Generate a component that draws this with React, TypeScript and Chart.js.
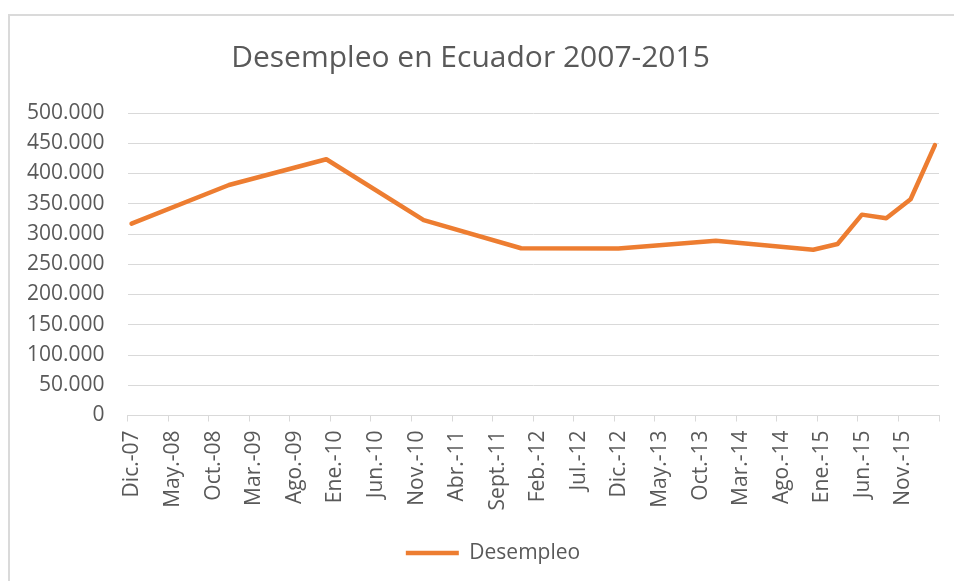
import { useEffect, useRef } from 'react';
import { Chart, registerables } from 'chart.js';

Chart.register(...registerables);

const chartTitle = 'Desempleo en Ecuador 2007-2015';
const seriesName = 'Desempleo';
// Observation periods (year-month)
const periods = [
  '2007-12', '2008-12', '2009-12', '2010-12', '2011-12', '2012-12', '2013-12',
  '2014-12', '2015-03', '2015-06', '2015-09', '2015-12', '2016-03',
];
// Unemployed persons
const unemployed = [
  317000, 381000, 423500, 323000, 276500, 276000, 289000,
  274000, 283500, 332000, 326000, 357500, 447000,
];
// Date-axis labels, one every 5 months starting Dic.-07
const xTickLabels = [
  'Dic.-07', 'May.-08', 'Oct.-08', 'Mar.-09', 'Ago.-09', 'Ene.-10', 'Jun.-10',
  'Nov.-10', 'Abr.-11', 'Sept.-11', 'Feb.-12', 'Jul.-12', 'Dic.-12', 'May.-13',
  'Oct.-13', 'Mar.-14', 'Ago.-14', 'Ene.-15', 'Jun.-15', 'Nov.-15', '',
];
const yMin = 0;
const yMax = 500000;
const yStep = 50000;

const FONT = "'Open Sans', sans-serif";
const TEXT = '#595959';
const GRID = '#d9d9d9';
const ORANGE = '#ED7D31';

// months since Dic.-07, points placed mid-month
const monthOffset = (p: string) => {
  const [y, m] = p.split('-').map(Number);
  return (y - 2007) * 12 + (m - 12) + 0.5;
};

const fmtThousands = (v: number) =>
  String(Math.round(v)).replace(/\B(?=(\d{3})+(?!\d))/g, '.');

const shiftPlugin = {
  id: 'shiftBoxes',
  afterLayout(chart: any, _args: any, opts: any) {
    const t = chart.titleBlock;
    if (t) { t.left += opts.title; t.right += opts.title; }
    const l = chart.legend;
    if (l) { l.left += opts.legend; l.right += opts.legend; }
  },
};

export default function App() {
  const ref = useRef<HTMLCanvasElement>(null);

  useEffect(() => {
    if (!ref.current) return;
    const chart = new Chart(ref.current, {
      type: 'line',
      data: {
        datasets: [
          {
            label: seriesName,
            data: periods.map((p, i) => ({ x: monthOffset(p), y: unemployed[i] })),
            borderColor: ORANGE,
            backgroundColor: ORANGE,
            borderWidth: 4.5,
            borderCapStyle: 'round',
            borderJoinStyle: 'round',
            pointRadius: 0,
            pointHoverRadius: 0,
            tension: 0,
            fill: false,
          },
        ],
      },
      plugins: [shiftPlugin],
      options: {
        responsive: false,
        animation: false,
        layout: { padding: { left: 0, right: 15, top: 0, bottom: 7.5 } },
        scales: {
          x: {
            type: 'linear',
            min: 0,
            max: 100,
            afterFit: (s: any) => {
              s.height = 117;
              s.paddingLeft = 0;
              s.paddingRight = 0;
            },
            ticks: {
              stepSize: 5,
              autoSkip: false,
              maxRotation: 90,
              minRotation: 90,
              padding: 9,
              labelOffset: 5,
              color: TEXT,
              font: { family: FONT, size: 21 },
              callback: (v: any) => xTickLabels[Math.round(Number(v) / 5)] ?? '',
            },
            grid: {
              drawOnChartArea: false,
              drawTicks: true,
              tickLength: 6,
              color: GRID,
              lineWidth: 1,
            },
            border: { display: true, color: GRID, width: 1 },
          },
          y: {
            min: yMin,
            max: yMax,
            afterFit: (s: any) => { s.width = 117.5; },
            ticks: {
              stepSize: yStep,
              padding: 23,
              color: TEXT,
              font: { family: FONT, size: 21 },
              callback: (v: any) => fmtThousands(Number(v)),
            },
            grid: { drawTicks: false, color: GRID, lineWidth: 1 },
            border: { display: false },
          },
        },
        plugins: {
          shiftBoxes: { title: -4, legend: 18.5 },
          title: {
            display: true,
            text: chartTitle,
            color: TEXT,
            font: { family: FONT, size: 30, weight: 'normal' },
            padding: { top: 24, bottom: 37 },
          },
          legend: {
            display: true,
            position: 'bottom',
            labels: {
              usePointStyle: true,
              pointStyle: 'line',
              pointStyleWidth: 53,
              padding: 10,
              color: TEXT,
              font: { family: FONT, size: 21 },
            },
          },
          tooltip: { enabled: false },
        },
      } as any,
    });
    return () => chart.destroy();
  }, []);

  return (
    <div
      style={{
        position: 'fixed',
        left: 8,
        top: 14,
        right: 0,
        bottom: 0,
        borderLeft: '2px solid #dadada',
        borderTop: '2px solid #dadada',
        background: '#fff',
        overflow: 'hidden',
      }}
    >
      <canvas ref={ref} width={944} height={565} style={{ display: 'block' }} />
    </div>
  );
}
